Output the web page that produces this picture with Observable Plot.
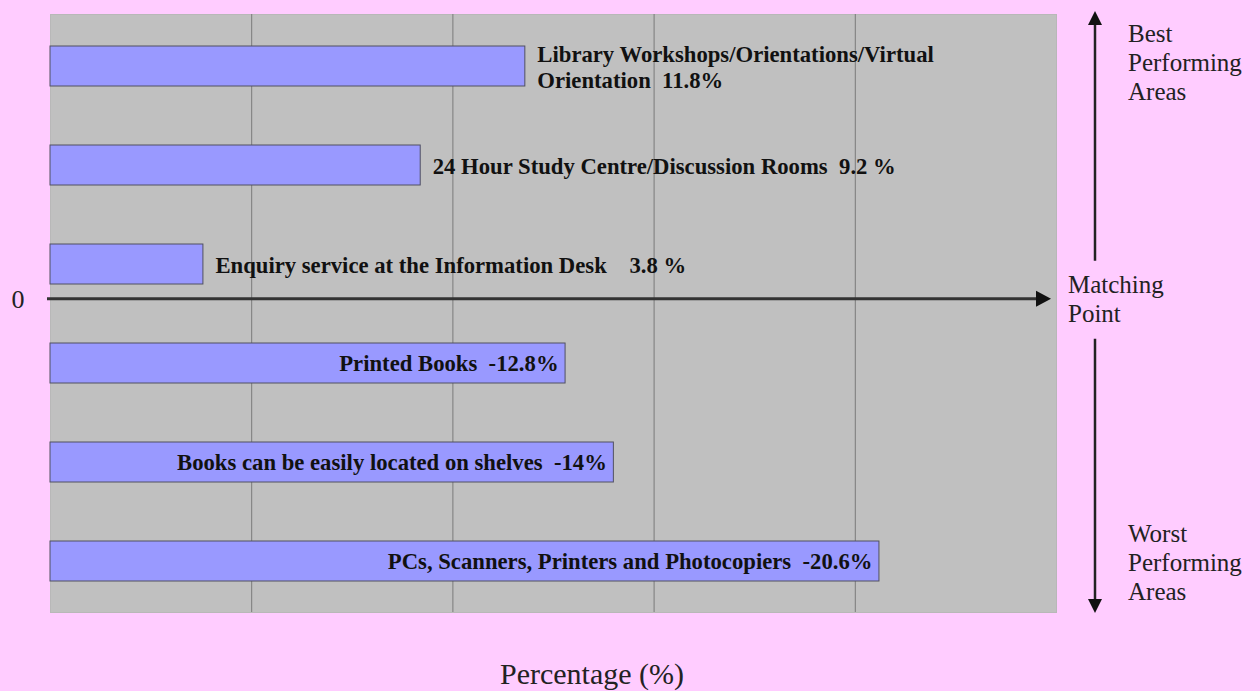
<!DOCTYPE html>
<html>
<head>
<meta charset="utf-8">
<script src="https://cdn.jsdelivr.net/npm/d3@7"></script>
<script src="https://cdn.jsdelivr.net/npm/@observablehq/plot@0.6"></script>
<style>
  html, body { margin: 0; padding: 0; background: #ffccff; }
  svg text { white-space: pre; }
</style>
</head>
<body>
<div id="chart"></div>
<script>
const categories = [
  "Library Workshops/Orientations/Virtual Orientation",
  "24 Hour Study Centre/Discussion Rooms",
  "Enquiry service at the Information Desk",
  "Printed Books",
  "Books can be easily located on shelves",
  "PCs, Scanners, Printers and Photocopiers"
];
const values = [11.8, 9.2, 3.8, -12.8, -14, -20.6];
const labels = [
  "Library Workshops/Orientations/Virtual\nOrientation  11.8%",
  "24 Hour Study Centre/Discussion Rooms  9.2 %",
  "Enquiry service at the Information Desk    3.8 %",
  "Printed Books  -12.8%",
  "Books can be easily located on shelves  -14%",
  "PCs, Scanners, Printers and Photocopiers  -20.6%"
];
const gridTicks = [5, 10, 15, 20];
const xDomain = [0, 25];
const zeroLabel = "0";
const xTitle = "Percentage (%)";
const bestText = ["Best", "Performing", "Areas"];
const matchText = ["Matching", "Point"];
const worstText = ["Worst", "Performing", "Areas"];

(function () {
const data = categories.map((c, i) => ({name: c, value: values[i], mag: Math.abs(values[i]), label: labels[i]}));

const serif = "'Liberation Serif', 'Times New Roman', serif";

const plot = Plot.plot({
  width: 1260,
  height: 691,
  marginTop: 14,
  marginLeft: 50,
  marginRight: 204,
  marginBottom: 79,
  style: {background: "#ffccff", fontFamily: serif},
  x: {domain: xDomain, axis: null},
  y: {domain: categories, axis: null, paddingInner: 0.6, paddingOuter: 0.3},
  marks: [
    Plot.frame({fill: "#c0c0c0", stroke: "#b8b8b8"}),
    Plot.ruleX(gridTicks, {stroke: "#7a7a7a", strokeWidth: 1}),
    Plot.barX(data, {x: "mag", y: "name", fill: "#9999ff", stroke: "#505060", strokeWidth: 1}),
    Plot.text(data.filter(d => d.value > 0), {
      x: "mag", y: "name", text: "label", textAnchor: "start", dx: 12,
      fontSize: 22.7, fontWeight: "bold", fill: "#111", lineHeight: 1.15
    }),
    Plot.text(data.filter(d => d.value < 0), {
      x: "mag", y: "name", text: "label", textAnchor: "end", dx: -7,
      fontSize: 22.7, fontWeight: "bold", fill: "#111"
    })
  ]
});

document.getElementById("chart").appendChild(plot);

const xs = plot.scale("x"), ys = plot.scale("y");
const svg = d3.select(plot);
svg.selectAll("text").attr("xml:space", "preserve");
const pLeft = xs.range[0], pRight = xs.range[1];
const pTop = ys.range[0], pBottom = ys.range[1];
const step = ys.step, bw = ys.bandwidth;
const yZero = ys.apply(categories[2]) + bw + 0.25 * (step - bw);

const g = svg.append("g").attr("text-anchor", "start");
g.append("line").attr("x1", pLeft - 3).attr("x2", pRight - 15).attr("y1", yZero).attr("y2", yZero)
  .attr("stroke", "#333").attr("stroke-width", 3);
g.append("path").attr("d", `M${pRight - 5},${yZero} L${pRight - 20},${yZero - 8} L${pRight - 20},${yZero + 8} Z`).attr("fill", "#111");
g.append("text").attr("x", pLeft - 32).attr("y", yZero + 9).attr("text-anchor", "middle")
  .attr("font-family", serif).attr("font-size", 26).attr("fill", "#222").text(zeroLabel);

const ax = pRight + 39;
g.append("line").attr("x1", ax).attr("x2", ax).attr("y1", pTop + 10).attr("y2", yZero - 38)
  .attr("stroke", "#222").attr("stroke-width", 2.5);
g.append("path").attr("d", `M${ax},${pTop - 3} L${ax - 7},${pTop + 11} L${ax + 7},${pTop + 11} Z`).attr("fill", "#111");
g.append("line").attr("x1", ax).attr("x2", ax).attr("y1", yZero + 40).attr("y2", pBottom - 12)
  .attr("stroke", "#222").attr("stroke-width", 2.5);
g.append("path").attr("d", `M${ax},${pBottom + 1} L${ax - 7},${pBottom - 13} L${ax + 7},${pBottom - 13} Z`).attr("fill", "#111");

function block(lines, x, y0, lh) {
  const t = g.append("text").attr("font-family", serif).attr("font-size", 25)
    .attr("fill", "#222").attr("text-anchor", "start");
  lines.forEach((s, i) => t.append("tspan").attr("x", x).attr("y", y0 + i * lh).text(s));
}
block(bestText, pRight + 72, pTop + 28, 29);
block(matchText, pRight + 12, yZero - 6, 29);
block(worstText, pRight + 72, pBottom - 70, 29);

g.append("text").attr("x", (pLeft + pRight) / 2 + 39).attr("y", pBottom + 72).attr("text-anchor", "middle")
  .attr("font-family", serif).attr("font-size", 30).attr("fill", "#222").text(xTitle);
})();
</script>
</body>
</html>
